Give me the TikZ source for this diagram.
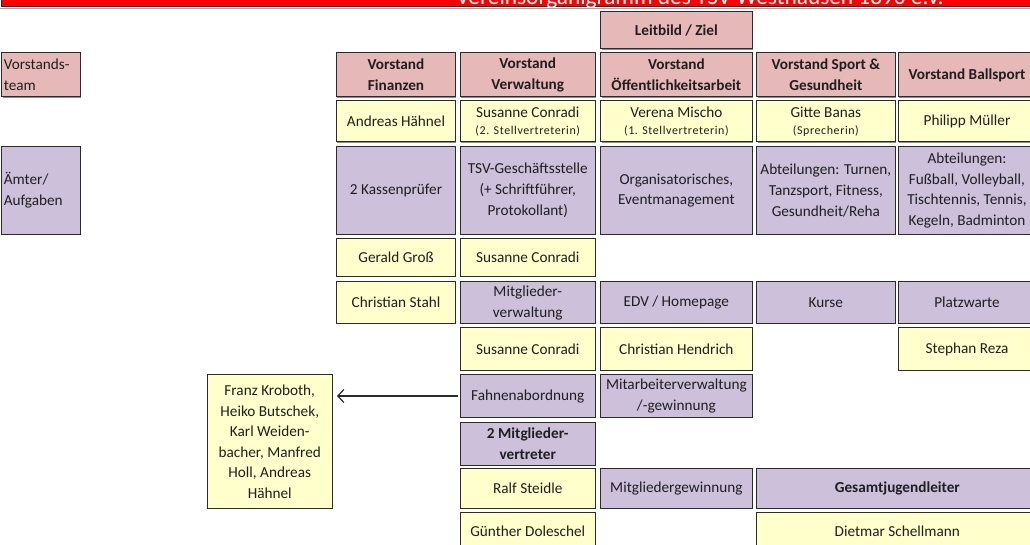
\documentclass[tikz,border=0pt]{standalone}
\usepackage{fontspec}
\setmainfont{Carlito}
\newfontfamily\subfont[LetterSpace=5]{Carlito}
\usetikzlibrary{arrows.meta,shadows}
\definecolor{hdr}{HTML}{E6B8B7}
\definecolor{yel}{HTML}{FFFFCC}
\definecolor{pur}{HTML}{CCC0DA}
\definecolor{ttl}{HTML}{FF0000}
\definecolor{bord}{HTML}{2B2B2B}
\definecolor{txt}{HTML}{1F1F1F}
\newcommand\subl[1]{{\subfont\fontsize{12}{14}\selectfont #1}}
\newcommand\bx[7]{%
  \pgfmathsetmacro\bxw{#4-#2}\pgfmathsetmacro\bxh{#5-#3}%
  \pgfmathsetmacro\bxcx{(#2+#4)/2}\pgfmathsetmacro\bxcy{(#3+#5)/2}%
  \node[box,#6,minimum width=\bxw bp,minimum height=\bxh bp] (#1) at (\bxcx,\bxcy) {#7};}
\tikzset{
  box/.style={draw=bord,line width=1bp,inner sep=0pt,align=center,text=txt,
    font=\fontsize{15.3}{21}\selectfont,
    drop shadow={shadow xshift=0.9bp,shadow yshift=-0.9bp,fill=black!45,opacity=1}},
  hd/.style={fill=hdr,font=\fontsize{15.3}{21}\selectfont\bfseries},
  ye/.style={fill=yel},
  pu/.style={fill=pur},
  pub/.style={fill=pur,font=\fontsize{15.3}{21}\selectfont\bfseries},
  lefty/.style={align=left,text width=74bp,inner xsep=2bp},
}
\begin{document}
\begin{tikzpicture}[x=1bp,y=-1bp]
\useasboundingbox (0,0) rectangle (1030,545);
% title banner
\fill[black!35] (0,8.5) rectangle (1040,9.3);
\begin{scope}
\clip (0,-40) rectangle (1040,7.5);
\draw[bord,line width=1bp,fill=ttl] (1.5,-30) rectangle (1040,7);
\node[anchor=base,text=white,font=\fontsize{23.4}{27}\selectfont,inner sep=0] (title) at (700,5) {Vereinsorganigramm des TSV Westhausen 1890 e.V.};
\end{scope}
% left column
\bx{vteam}{1.7}{53}{80}{97}{fill=hdr,lefty}{Vorstands-\\team}
\bx{aemter}{1.7}{146.5}{80}{234.5}{fill=pur,lefty}{Ämter/\\Aufgaben}
% Leitbild
\bx{leit}{600.7}{12}{752}{49}{hd}{Leitbild / Ziel}
% header row
\bx{h1}{336.5}{53}{455.5}{97}{hd}{Vorstand\\Finanzen}
\bx{h2}{460}{53}{595.5}{97}{hd}{Vorstand\\Verwaltung}
\bx{h3}{600.7}{53}{752}{97}{hd}{Vorstand\\Öffentlichkeitsarbeit}
\bx{h4}{756.7}{53}{895}{97}{hd}{Vorstand Sport \&\\Gesundheit}
\bx{h5}{898}{53}{1036}{97}{hd}{Vorstand Ballsport}
% row 2
\bx{p1}{336.5}{101}{455.5}{142}{ye}{Andreas Hähnel}
\bx{p2}{460}{101}{595.5}{142}{ye}{Susanne Conradi\\[-4bp]\subl{(2. Stellvertreterin)}}
\bx{p3}{600.7}{101}{752}{142}{ye}{Verena Mischo\\[-4bp]\subl{(1. Stellvertreterin)}}
\bx{p4}{756.7}{101}{895}{142}{ye}{Gitte Banas\\[-4bp]\subl{(Sprecherin)}}
\bx{p5}{898}{101}{1036}{142}{ye}{Philipp Müller}
% row 3
\bx{a1}{336.5}{146.5}{455.5}{234.5}{pu}{2 Kassenprüfer}
\bx{a2}{460}{146.5}{595.5}{234.5}{pu}{TSV-Geschäftsstelle\\(+ Schriftführer,\\Protokollant)}
\bx{a3}{600.7}{146.5}{752}{234.5}{pu}{Organisatorisches,\\Eventmanagement}
\bx{a4}{756.7}{146.5}{895}{234.5}{pu}{Abteilungen: Turnen,\\Tanzsport, Fitness,\\Gesundheit/Reha}
\bx{a5}{898}{146.5}{1036}{234.5}{pu}{Abteilungen:\\Fußball, Volleyball,\\Tischtennis, Tennis,\\Kegeln, Badminton}
% row 4
\bx{g1}{336.5}{239}{455.5}{276.5}{ye}{Gerald Groß}
\bx{g2}{460}{239}{595.5}{276.5}{ye}{Susanne Conradi}
% row 5
\bx{s1}{336.5}{282}{455.5}{323.5}{ye}{Christian Stahl}
\bx{s2}{460}{282}{595.5}{323.5}{pu}{Mitglieder-\\verwaltung}
\bx{s3}{600.7}{282}{752}{323.5}{pu}{EDV / Homepage}
\bx{s4}{756.7}{282}{895}{323.5}{pu}{Kurse}
\bx{s5}{898}{282}{1036}{323.5}{pu}{Platzwarte}
% row 6
\bx{c2}{460}{328}{595.5}{370.5}{ye}{Susanne Conradi}
\bx{c3}{600.7}{328}{752}{370.5}{ye}{Christian Hendrich}
\bx{c5}{898}{328}{1036}{370.5}{ye}{Stephan Reza}
% row 7
\bx{f2}{460}{375}{595.5}{417.5}{pu}{Fahnenabordnung}
\bx{f3}{600.7}{375}{752}{417.5}{pu}{Mitarbeiterverwaltung\\/-gewinnung}
% row 8
\bx{m2}{460}{422}{595.5}{465}{pub}{2 Mitglieder-\\vertreter}
% row 9
\bx{r2}{460}{468}{595.5}{508.5}{ye}{Ralf Steidle}
\bx{r3}{600.7}{468}{752}{508.5}{pu}{Mitgliedergewinnung}
\bx{r4}{756.7}{468}{1038}{508.5}{pub}{Gesamtjugendleiter}
% row 10
\bx{d2}{460}{512.5}{595.5}{550}{ye}{Günther Doleschel}
\bx{d4}{756.7}{512.5}{1038}{550}{ye}{Dietmar Schellmann}
% Fahnenabordnung members
\bx{fk}{207}{375}{332.5}{508.5}{ye,font=\fontsize{15.3}{20.7}\selectfont}{Franz Kroboth,\\Heiko Butschek,\\Karl Weiden-\\bacher, Manfred\\Holl, Andreas\\Hähnel}
% arrow
\draw[-{Straight Barb[length=6bp,width=13bp]},line width=1.2bp,bord,shorten <=2bp,shorten >=4bp] (f2.west|-0,396) -- (fk.east|-0,396);
\end{tikzpicture}
\end{document}
